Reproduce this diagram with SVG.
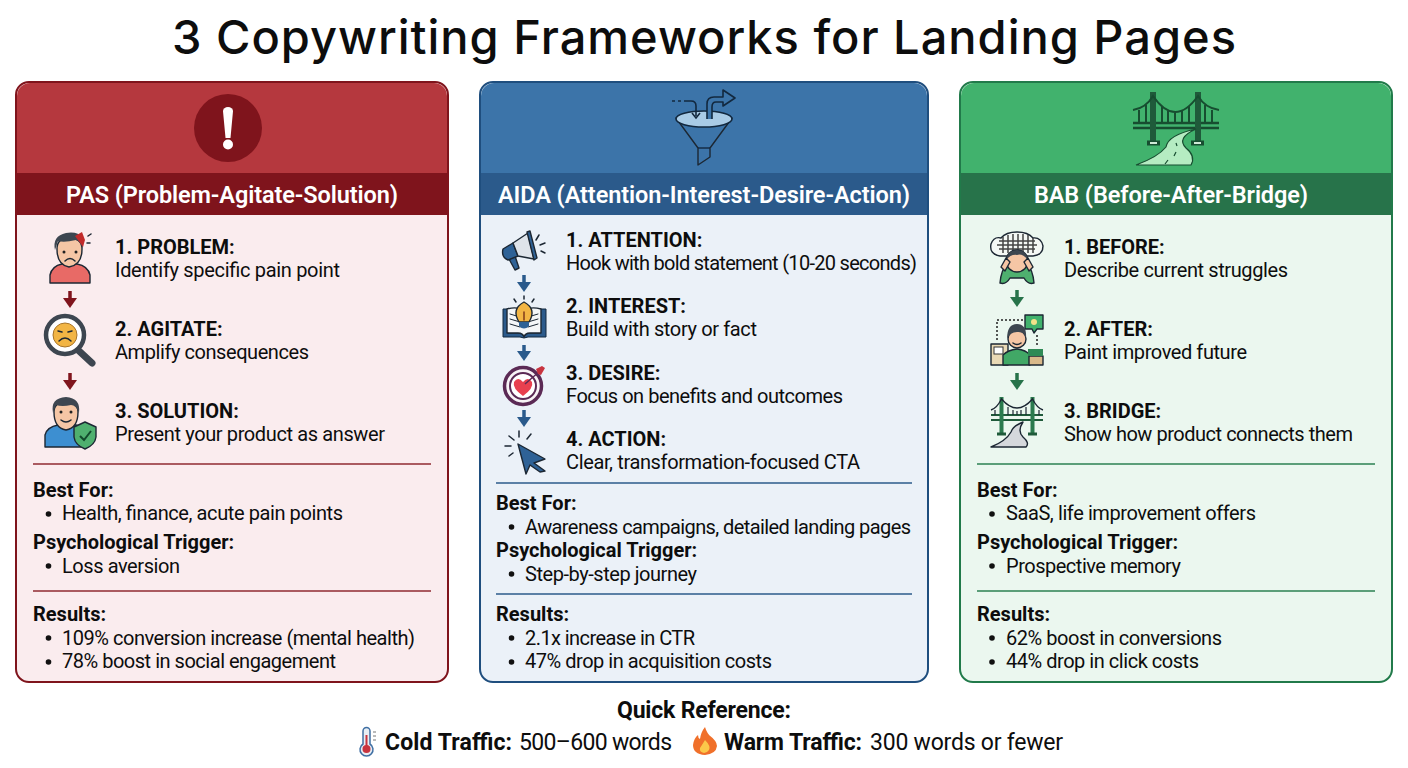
<svg xmlns="http://www.w3.org/2000/svg" width="1408" height="768" viewBox="0 0 1408 768">
<style>
text{font-family:Roboto,"Liberation Sans",sans-serif;fill:#0d0d0d}
.title{font-family:Inter,"Noto Sans",sans-serif;font-size:47px;font-weight:500;text-anchor:middle}
.band{font-size:23.5px;font-weight:600;fill:#fff;text-anchor:middle}
.h{font-size:20px;font-weight:700}
.d{font-size:20px}
.c{font-size:23px}
.cb{font-size:23px;font-weight:700}
.ol{stroke:#1c2733;stroke-width:1.4;stroke-linejoin:round;stroke-linecap:round}
.sk{fill:#f5c6a5}.hair{fill:#3d4650}
.rc{fill:none;stroke:#7f141c;stroke-width:3.5;marker-end:url(#mr)}
.bc{fill:none;stroke:#2a5a8c;stroke-width:3.5;marker-end:url(#mb)}
.gc{fill:none;stroke:#27734a;stroke-width:3.5;marker-end:url(#mg)}
.dk{fill:none;stroke:#1c2733;stroke-width:1.5;stroke-linecap:round}
.bul{fill:#111}
</style>
<defs>
<marker id="mr" markerUnits="userSpaceOnUse" markerWidth="14" markerHeight="10" refX="7" refY="1" orient="0" viewBox="0 0 14 10"><path d="M0 0H14L7 10Z" fill="#7f141c"/></marker>
<marker id="mb" markerUnits="userSpaceOnUse" markerWidth="14" markerHeight="10" refX="7" refY="1" orient="0" viewBox="0 0 14 10"><path d="M0 0H14L7 10Z" fill="#2a5a8c"/></marker>
<marker id="mg" markerUnits="userSpaceOnUse" markerWidth="14" markerHeight="10" refX="7" refY="1" orient="0" viewBox="0 0 14 10"><path d="M0 0H14L7 10Z" fill="#27734a"/></marker>
<g id="bridgeS">
<path d="M-26 -6H26M-26 -1H26" stroke="#1f5a3a" stroke-width="2.200" fill="none"/>
<path d="M-15.500 -24V12M15.500 -24V12" stroke="#2b7a4e" stroke-width="4"/>
<path d="M-26 -11Q-20 -13 -15.500 -22Q0 -4 15.500 -22Q20 -13 26 -11" fill="none" stroke="#1c2733" stroke-width="1.400"/>
<path d="M-22 -11V-6M-9 -14V-6M-4 -11V-6M0 -10V-6M4 -11V-6M9 -14V-6M22 -11V-6" stroke="#1c2733" stroke-width="1.200"/>
<path d="M-20 13H-11M11 13H20" stroke="#1f5a3a" stroke-width="3"/>
</g>
</defs>
<rect width="1408" height="768" fill="#fff"/>
<text class="title" x="704" y="54" textLength="1064">3 Copywriting Frameworks for Landing Pages</text>

<g id="card-pas">
<rect x="16" y="82" width="432" height="600" rx="13" fill="#faecee" stroke="#7f141c" stroke-width="2"/>
<path d="M17 173V96a13 13 0 0 1 13-13H434a13 13 0 0 1 13 13V173Z" fill="#b5383e"/>
<rect x="17" y="173" width="430" height="42" fill="#7f141c"/>
<text class="band" x="232" y="203" textLength="332">PAS (Problem-Agitate-Solution)</text>
<g id="pas-icon"><circle cx="228" cy="128" r="34" fill="#7f141c"/><path d="M223 111a5 4 0 0 1 10 0L230.500 138h-5Z" fill="#fff"/><circle cx="228" cy="144.500" r="5" fill="#fff"/></g>
<line x1="33" y1="464" x2="431" y2="464" stroke="#8f2a30" stroke-width="1.500"/>
<line x1="33" y1="591" x2="431" y2="591" stroke="#8f2a30" stroke-width="1.500"/>
</g>
<g id="pas-problem">
<path class="ol" d="M50 283V275Q52 266 62 264H77Q88 266 90 275V283Z" fill="#e86a66"/>
<path class="sk ol" d="M57 249Q57 265 69 267Q82 265 82 249Q82 238 69 238Q57 238 57 249Z"/>
<path class="hair" d="M55 250Q52 236 66 233Q78 231 82 238L83 249Q80 241 76 240Q64 243 58 241Z"/>
<path d="M75 236L82 232L85 240L83 247Z" fill="#c12a2a"/><circle cx="64" cy="252" r="1.500" fill="#222"/><circle cx="76" cy="252" r="1.500" fill="#222"/>
<path class="dk" d="M65 261Q70 256 75 261M88 236l3 -2M87 243h3"/>
<text class="h" x="115" y="254">1. PROBLEM:</text><text class="d" x="115" y="277" textLength="225">Identify specific pain point</text>
</g>
<g id="pas-agitate">
<path d="M78 350L92 363" stroke="#3d4650" stroke-width="7" stroke-linecap="round"/>
<circle cx="65" cy="335" r="19" fill="#fff" stroke="#3d4650" stroke-width="4.500"/>
<circle cx="65" cy="335" r="12" fill="#f2b544" stroke="#a8752a"/>
<path class="dk" d="M59 341Q65 335 71 341M58 331l4 1M72 331l-4 1"/>
<text class="h" x="115" y="336">2. AGITATE:</text><text class="d" x="115" y="359" textLength="194">Amplify consequences</text>
</g>
<g id="pas-solution">
<path class="ol" d="M45 447V435Q47 427 58 425H76Q86 427 88 437V447Z" fill="#3d8fd1"/>
<path class="sk ol" d="M54 412Q54 428 66 430Q78 428 78 412Q78 402 66 402Q54 402 54 412Z"/>
<path class="hair" d="M53 413Q50 398 66 397Q81 398 79 413Q76 405 71 405Q62 407 56 405Z"/>
<circle cx="61" cy="412" r="1.500" fill="#222"/><circle cx="71" cy="412" r="1.500" fill="#222"/><path class="dk" d="M61 420Q66 424 71 420"/>
<path class="ol" d="M85 422L96 427V437Q95 445 85 449Q75 445 74 437V427Z" fill="#4fb06f"/><path d="M80 436L84 440L91 431" fill="none" stroke="#124a2c" stroke-width="2"/>
<text class="h" x="115" y="418">3. SOLUTION:</text><text class="d" x="115" y="441" textLength="270">Present your product as answer</text>
</g>
<g id="pas-best"><text class="h" x="33" y="497">Best For:</text><circle class="bul" cx="48.500" cy="514" r="2.800"/><text class="d" x="62" y="520" textLength="281">Health, finance, acute pain points</text></g>
<g id="pas-trigger"><text class="h" x="33" y="549">Psychological Trigger:</text><circle class="bul" cx="48.500" cy="566" r="2.800"/><text class="d" x="62" y="573" textLength="118">Loss aversion</text></g>
<g id="pas-results"><text class="h" x="33" y="621">Results:</text><circle class="bul" cx="48.500" cy="638" r="2.800"/><text class="d" x="62" y="645" textLength="353">109% conversion increase (mental health)</text><circle class="bul" cx="48.500" cy="662" r="2.800"/><text class="d" x="62" y="668" textLength="274">78% boost in social engagement</text></g>

<g id="card-aida">
<rect x="480" y="82" width="448" height="600" rx="13" fill="#ebf1f8" stroke="#1f4e7e" stroke-width="2"/>
<path d="M481 173V96a13 13 0 0 1 13-13H914a13 13 0 0 1 13 13V173Z" fill="#3c74a9"/>
<rect x="481" y="173" width="446" height="42" fill="#2b5a8b"/>
<text class="band" x="704" y="203" textLength="412">AIDA (Attention-Interest-Desire-Action)</text>
<g id="aida-icon">
<path class="ol" d="M676 118L698 148V165L710 157V148L732 118Z" fill="#3c74a9" stroke="#12283f"/>
<path d="M698 148H710" stroke="#12283f" stroke-width="1.400"/>
<ellipse cx="704" cy="119" rx="28" ry="8" fill="#a9cbe6" stroke="#12283f" stroke-width="1.600"/>
<path d="M672 101H675M678 101H681" stroke="#12283f" stroke-width="1.600"/>
<path d="M684 101H691Q696 101 696 106V116" fill="none" stroke="#12283f" stroke-width="1.600"/>
<path d="M692 113L696 118L700 113" fill="none" stroke="#12283f" stroke-width="1.600"/>
<path d="M707 119V104Q707 97 714 97H723V90L735 98L723 106V102H716Q712 102 712 107V119" fill="#3c74a9" stroke="#12283f" stroke-width="1.600" stroke-linejoin="round"/>
</g>
<line x1="496" y1="483" x2="912" y2="483" stroke="#2b5a8b" stroke-width="1.500"/>
<line x1="496" y1="594" x2="912" y2="594" stroke="#2b5a8b" stroke-width="1.500"/>
</g>
<g id="aida-attention">
<path class="ol" d="M509 259L515 270L519 268L515 256Z" fill="#2f6296"/>
<path class="ol" d="M513 243L503 249Q501 257 508 260L518 256Z" fill="#2f6296"/>
<path class="ol" d="M513 243L528 233L534 259L518 256Z" fill="#dfe4ea"/>
<path class="ol" d="M527 232L530 231L537 258L534 260Z" fill="#2f6296"/>
<path class="dk" d="M536 240l3 -5M540 245l5 -2M541 251l4 2"/>
<text class="h" x="566" y="247">1. ATTENTION:</text><text class="d" x="566" y="270" textLength="351">Hook with bold statement (10-20 seconds)</text>
</g>
<g id="aida-interest">
<path d="M503 309V337H520Q524 339 528 337H546V309H540V333H530Q525 333 524 337Q523 333 518 333H508V309Z" fill="#2b5a8b" stroke="#12283f" stroke-width="1"/>
<path class="ol" d="M507 309Q518 306 524 311Q530 306 541 309V333H530Q525 333 524 337Q523 333 518 333H507Z" fill="#f4f6f8"/>
<path class="dk" d="M510 314L520 317M510 319L520 322M510 324L520 327M538 314L528 317M538 319L528 322M538 324L528 327" style="stroke-width:1"/>
<path class="ol" d="M519 322Q511 309 524 302Q537 309 529 322Z" fill="#f2b544"/><path d="M519 322H529V326Q524 331 519 326Z" fill="#2f6296"/>
<path class="dk" d="M524 320V312" style="stroke:#7f3a1a"/>
<path class="dk" d="M524 296v3M514 299l2 3M534 299l-2 3"/>
<text class="h" x="566" y="313">2. INTEREST:</text><text class="d" x="566" y="336" textLength="191">Build with story or fact</text>
</g>
<g id="aida-desire">
<circle cx="523" cy="386" r="18.500" fill="#f8f4f6" stroke="#5b2a55" stroke-width="3.500"/>
<circle cx="523" cy="386" r="13" fill="#fff" stroke="#5b2a55" stroke-width="2"/>
<path d="M523 396Q512 388 514 382Q518 376 523 382Q528 376 532 382Q534 388 523 396Z" fill="#e8404f"/>
<path d="M525 384L540 371" stroke="#5b2a55" stroke-width="1.500"/><path d="M536 369L542 366L545 368L541 375L538 374Z" fill="#c8343f"/>
<text class="h" x="566" y="379.500">3. DESIRE:</text><text class="d" x="566" y="402.500" textLength="277">Focus on benefits and outcomes</text>
</g>
<g id="aida-action">
<path class="ol" d="M518 444L545 459L534 463L545 471L540 472L530 465L526 474Z" fill="#2f6296"/>
<path class="dk" d="M519 431v6M509 436l5 4M505 446h6M509 456l4 -3M531 434l-4 5"/>
<text class="h" x="566" y="445.500">4. ACTION:</text><text class="d" x="566" y="468.500" textLength="294">Clear, transformation-focused CTA</text>
</g>
<g id="aida-best"><text class="h" x="496" y="510">Best For:</text><circle class="bul" cx="511.500" cy="527" r="2.800"/><text class="d" x="525" y="534" textLength="386">Awareness campaigns, detailed landing pages</text></g>
<g id="aida-trigger"><text class="h" x="496" y="557">Psychological Trigger:</text><circle class="bul" cx="511.500" cy="574" r="2.800"/><text class="d" x="525" y="581" textLength="172">Step-by-step journey</text></g>
<g id="aida-results"><text class="h" x="496" y="621">Results:</text><circle class="bul" cx="511.500" cy="638" r="2.800"/><text class="d" x="525" y="645" textLength="170">2.1x increase in CTR</text><circle class="bul" cx="511.500" cy="662" r="2.800"/><text class="d" x="525" y="668" textLength="247">47% drop in acquisition costs</text></g>

<g id="card-bab">
<rect x="960" y="82" width="432" height="600" rx="13" fill="#ebf7ef" stroke="#217a4a" stroke-width="2"/>
<path d="M961 173V96a13 13 0 0 1 13-13H1378a13 13 0 0 1 13 13V173Z" fill="#41b26d"/>
<rect x="961" y="173" width="430" height="42" fill="#27734a"/>
<text class="band" x="1171" y="203" textLength="274">BAB (Before-After-Bridge)</text>
<g id="bab-icon">
<path d="M1133 123H1219M1133 128H1219" stroke="#174d30" stroke-width="2.500"/>
<path d="M1153 92V141M1198 92V141" stroke="#1f5a3a" stroke-width="6"/>
<path d="M1133 110Q1146 108 1153 96Q1175 128 1198 96Q1205 108 1219 110" fill="none" stroke="#174d30" stroke-width="2"/>
<path d="M1139 110V123M1146 105V123M1162 106V123M1168 111V123M1175 113V123M1182 111V123M1189 106V123M1205 105V123M1212 110V123" stroke="#174d30" stroke-width="2"/>
<path d="M1147 143H1160M1191 143H1204" stroke="#174d30" stroke-width="5"/><path d="M1150 143H1157M1194 143H1201" stroke="#cfe9d6" stroke-width="2"/>
<path d="M1136 165Q1158 157 1166 147Q1168 135 1196 129Q1176 138 1186 148Q1196 156 1191 165Z" fill="#b5ecc2" stroke="#174d30" stroke-width="1.200"/>
<path d="M1176 143l1 3M1176 152l-2 4M1168 160l-3 4" stroke="#174d30" stroke-width="1.200"/>
</g>
<line x1="977" y1="464" x2="1375" y2="464" stroke="#2b8052" stroke-width="1.500"/>
<line x1="977" y1="591" x2="1375" y2="591" stroke="#2b8052" stroke-width="1.500"/>
</g>
<g id="bab-before">
<path class="ol" d="M1000 256Q989 254 991 244Q994 236 1001 238Q1006 232 1017 232Q1028 232 1033 238Q1041 237 1043 246Q1043 255 1033 256Z" fill="#f4f8f5"/>
<path d="M999 241H1035M997 245H1037M999 249H1035M1003 237V253M1008 235V253M1013 234V253M1018 234V253M1023 234V253M1028 235V253M1033 238V253" stroke="#444" stroke-width="1.500"/>
<path class="ol" d="M1000 283Q1001 270 1008 262H1026Q1033 270 1034 283Q1028 285 1024 278H1010Q1006 285 1000 283Z" fill="#4fb06f"/>
<circle class="sk ol" cx="1017" cy="261" r="11"/>
<path class="hair" d="M1006 260Q1008 250 1017 250Q1026 250 1028 260Q1022 253 1017 255Q1011 254 1006 260Z"/>
<path class="sk ol" d="M1006 258L1001 267L1005 271L1010 262ZM1028 258L1033 267L1029 271L1024 262Z"/>
<text class="h" x="1064" y="254">1. BEFORE:</text><text class="d" x="1064" y="277" textLength="224">Describe current struggles</text>
</g>
<g id="bab-after">
<path d="M997 340V320H1023M1037 345V333" fill="none" stroke="#222" stroke-width="1.500" stroke-dasharray="2 2"/>
<path class="ol" d="M1025 315H1043V329H1037L1034 333L1032 329H1025Z" fill="#41b26d"/><circle cx="1034" cy="322" r="3" fill="#f4e28a"/>
<rect class="ol" x="991" y="344" width="17" height="21" fill="#e9d9b5"/><rect x="994" y="347" width="9" height="7" fill="#fff" stroke="#333"/>
<path class="ol" d="M1003 365V355Q1008 350 1017 349Q1026 350 1030 355V365Z" fill="#41a866"/>
<rect class="ol" x="1029" y="356" width="14" height="9" fill="#d9b98a"/><rect x="1028" y="349" width="15" height="7" fill="#2f8a55"/>
<circle class="sk ol" cx="1017" cy="339" r="9"/><path class="hair" d="M1007 339Q1007 324 1017 324Q1027 324 1026 338Q1024 331 1017 332Q1010 332 1007 339Z"/><path class="dk" d="M1013 343Q1017 346 1021 343"/>
<text class="h" x="1064" y="336">2. AFTER:</text><text class="d" x="1064" y="359" textLength="183">Paint improved future</text>
</g>
<g id="bab-bridge">
<use href="#bridgeS" x="1017" y="421"/>
<path class="ol" d="M991 447Q1006 441 1011 432Q1013 426 1023 422Q1017 431 1023 437Q1030 443 1026 447Z" fill="#d5d8dc"/>
<text class="h" x="1064" y="418">3. BRIDGE:</text><text class="d" x="1064" y="441" textLength="289">Show how product connects them</text>
</g>
<g id="bab-best"><text class="h" x="977" y="497">Best For:</text><circle class="bul" cx="992" cy="514" r="2.800"/><text class="d" x="1006" y="520" textLength="250">SaaS, life improvement offers</text></g>
<g id="bab-trigger"><text class="h" x="977" y="549">Psychological Trigger:</text><circle class="bul" cx="992" cy="566" r="2.800"/><text class="d" x="1006" y="573" textLength="175">Prospective memory</text></g>
<g id="bab-results"><text class="h" x="977" y="621">Results:</text><circle class="bul" cx="992" cy="638" r="2.800"/><text class="d" x="1006" y="645" textLength="216">62% boost in conversions</text><circle class="bul" cx="992" cy="662" r="2.800"/><text class="d" x="1006" y="668" textLength="193">44% drop in click costs</text></g>

<g id="connectors">
<path class="rc" d="M70 291V299"/><path class="rc" d="M70 373V381"/>
<path class="bc" d="M524 275V283"/><path class="bc" d="M524 345V352"/><path class="bc" d="M524 410V418"/>
<path class="gc" d="M1017 290V298"/><path class="gc" d="M1017 373V381"/>
</g>

<g id="quick-reference">
<text class="cb" x="704" y="718" text-anchor="middle" textLength="174">Quick Reference:</text>
<text class="cb" x="385" y="750" textLength="127">Cold Traffic:</text><text class="c" x="519" y="750" textLength="153">500–600 words</text>
<text class="cb" x="724" y="750" textLength="138">Warm Traffic:</text><text class="c" x="870" y="750" textLength="193">300 words or fewer</text>
<g id="thermometer"><path d="M363 731a3.500 3.500 0 0 1 7 0V744a6.500 6.500 0 1 1 -7 0Z" fill="#e8eef4" stroke="#3f6fa3" stroke-width="1.500"/><path d="M365.500 735H367.500V746H365.500Z" fill="#c8343f"/><circle cx="366.500" cy="749" r="4" fill="#c8343f"/><path d="M373 732h3M373 736h3M373 740h3" stroke="#777" stroke-width="1"/></g>
<g id="fire"><path d="M705 727Q707 734 712 738Q709 737 709 735Q717 741 717 746Q716 754 705 755Q693 754 693 745Q694 738 698 735Q698 738 700 739Q701 732 705 727Z" fill="#f0702a"/><path d="M705 740Q711 746 709 750Q707 753 704 753Q699 752 700 748Q702 745 705 740Z" fill="#fbc84a"/></g>
</g>
</svg>
